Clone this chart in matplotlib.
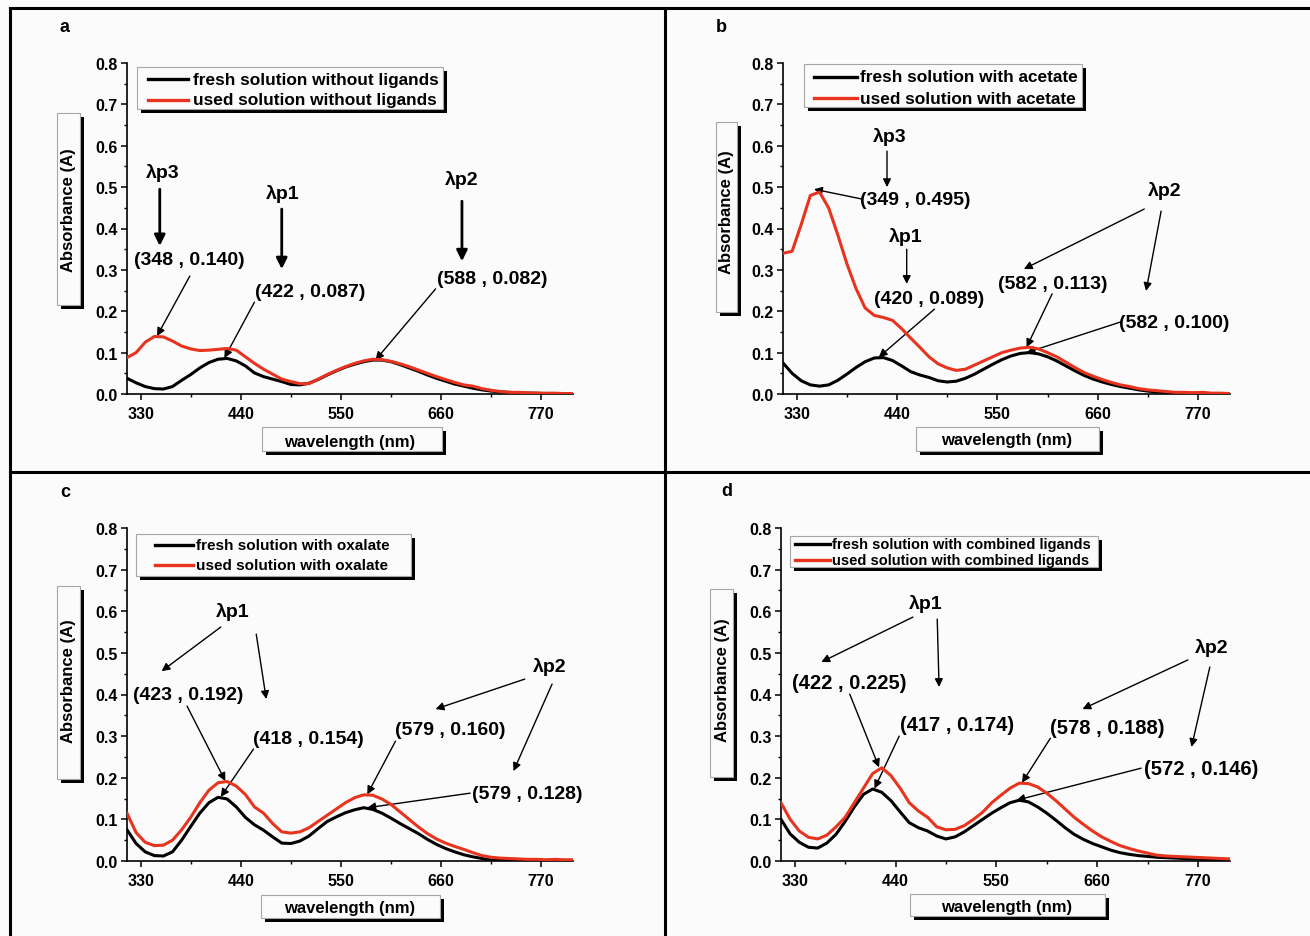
import numpy as np
import matplotlib
matplotlib.use('Agg')
import matplotlib.pyplot as plt
from matplotlib.patches import Rectangle
from matplotlib.lines import Line2D
import matplotlib.patheffects as pe

plt.rcParams['font.family'] = ['Liberation Sans', 'DejaVu Sans']
plt.rcParams['font.weight'] = 'bold'

W, H = 1310, 937
BG = '#fbfbfb'
RED = '#e8341e'

# wavelength grid (nm)
wl = [315, 325, 335, 345, 355, 365, 375, 385, 395, 405, 415, 425, 435, 445, 455, 465, 475,
      485, 495, 505, 515, 525, 535, 545, 555, 565, 575, 585, 595, 605, 615, 625, 635, 645,
      655, 665, 675, 685, 695, 705, 715, 725, 735, 745, 755, 765, 775, 785, 795, 805]

# a - without ligands
fresh_a = [0.038, 0.027, 0.018, 0.013, 0.012, 0.018, 0.033, 0.047, 0.063, 0.076, 0.084, 0.086,
           0.080, 0.068, 0.051, 0.042, 0.036, 0.030, 0.023, 0.022, 0.026, 0.035, 0.046, 0.056,
           0.065, 0.072, 0.078, 0.082, 0.082, 0.078, 0.071, 0.063, 0.055, 0.046, 0.038, 0.031,
           0.024, 0.019, 0.014, 0.010, 0.007, 0.005, 0.004, 0.003, 0.002, 0.002, 0.001, 0.001,
           0.001, 0.000]
used_a = [0.088, 0.100, 0.125, 0.139, 0.138, 0.128, 0.116, 0.109, 0.105, 0.106, 0.108, 0.110,
          0.106, 0.090, 0.074, 0.060, 0.048, 0.036, 0.030, 0.025, 0.025, 0.036, 0.047, 0.057,
          0.066, 0.074, 0.080, 0.084, 0.083, 0.079, 0.073, 0.066, 0.058, 0.050, 0.042, 0.035,
          0.028, 0.022, 0.019, 0.013, 0.009, 0.006, 0.004, 0.004, 0.003, 0.002, 0.002, 0.002,
          0.001, 0.001]

# b - with acetate
fresh_b = [0.075, 0.050, 0.032, 0.022, 0.019, 0.022, 0.033, 0.048, 0.064, 0.078, 0.087, 0.088,
           0.081, 0.068, 0.054, 0.046, 0.040, 0.032, 0.029, 0.031, 0.038, 0.048, 0.060, 0.072,
           0.083, 0.092, 0.098, 0.100, 0.097, 0.090, 0.080, 0.068, 0.056, 0.045, 0.036, 0.029,
           0.023, 0.018, 0.014, 0.010, 0.007, 0.005, 0.004, 0.003, 0.002, 0.002, 0.001, 0.001,
           0.001, 0.001]
used_b = [0.340, 0.345, 0.410, 0.480, 0.488, 0.450, 0.385, 0.315, 0.255, 0.208, 0.190, 0.185,
          0.178, 0.158, 0.135, 0.113, 0.090, 0.073, 0.063, 0.057, 0.060, 0.070, 0.080, 0.090,
          0.100, 0.106, 0.111, 0.113, 0.109, 0.100, 0.090, 0.077, 0.064, 0.052, 0.043, 0.035,
          0.028, 0.022, 0.018, 0.013, 0.010, 0.008, 0.006, 0.004, 0.004, 0.003, 0.004, 0.002,
          0.002, 0.001]

# c - with oxalate
fresh_c = [0.075, 0.042, 0.022, 0.013, 0.012, 0.022, 0.050, 0.083, 0.115, 0.140, 0.153, 0.149,
           0.130, 0.105, 0.087, 0.074, 0.058, 0.043, 0.042, 0.048, 0.060, 0.078, 0.095, 0.106,
           0.116, 0.123, 0.128, 0.124, 0.115, 0.103, 0.090, 0.078, 0.066, 0.052, 0.040, 0.030,
           0.022, 0.015, 0.010, 0.006, 0.002, 0.001, 0.001, 0.000, 0.000, 0.000, 0.000, 0.000,
           0.000, 0.000]
used_c = [0.115, 0.068, 0.045, 0.037, 0.038, 0.050, 0.075, 0.105, 0.140, 0.170, 0.188, 0.191,
          0.180, 0.160, 0.130, 0.115, 0.090, 0.070, 0.067, 0.070, 0.080, 0.095, 0.110, 0.125,
          0.140, 0.152, 0.159, 0.158, 0.149, 0.136, 0.118, 0.100, 0.082, 0.066, 0.053, 0.043,
          0.035, 0.028, 0.020, 0.013, 0.009, 0.007, 0.006, 0.005, 0.004, 0.004, 0.003, 0.004,
          0.003, 0.003]

# d - with combined ligands
fresh_d = [0.100, 0.065, 0.045, 0.033, 0.031, 0.043, 0.064, 0.095, 0.130, 0.160, 0.173, 0.165,
           0.145, 0.118, 0.092, 0.080, 0.072, 0.060, 0.053, 0.058, 0.070, 0.085, 0.100, 0.115,
           0.128, 0.140, 0.146, 0.142, 0.130, 0.115, 0.098, 0.080, 0.064, 0.052, 0.042, 0.034,
           0.026, 0.020, 0.016, 0.013, 0.011, 0.009, 0.008, 0.007, 0.006, 0.005, 0.004, 0.004,
           0.003, 0.003]
used_d = [0.140, 0.100, 0.072, 0.057, 0.053, 0.062, 0.082, 0.105, 0.140, 0.175, 0.210, 0.224,
          0.205, 0.175, 0.140, 0.120, 0.105, 0.082, 0.075, 0.076, 0.085, 0.100, 0.117, 0.140,
          0.158, 0.175, 0.187, 0.186, 0.178, 0.163, 0.145, 0.125, 0.105, 0.088, 0.072, 0.058,
          0.047, 0.037, 0.030, 0.024, 0.019, 0.014, 0.012, 0.011, 0.010, 0.009, 0.008, 0.007,
          0.006, 0.005]

legend_a = ['fresh solution without ligands', 'used solution without ligands']
legend_b = ['fresh solution with acetate', 'used solution with acetate']
legend_c = ['fresh solution with oxalate', 'used solution with oxalate']
legend_d = ['fresh solution with combined ligands', 'used solution with combined ligands']

# labelled peaks (wavelength, absorbance)
peaks_a = [(348, 0.140), (422, 0.087), (588, 0.082)]
peaks_b = [(349, 0.495), (420, 0.089), (582, 0.113), (582, 0.100)]
peaks_c = [(423, 0.192), (418, 0.154), (579, 0.160), (579, 0.128)]
peaks_d = [(422, 0.225), (417, 0.174), (578, 0.188), (572, 0.146)]

xticks = [330, 440, 550, 660, 770]
yticks = [0.0, 0.1, 0.2, 0.3, 0.4, 0.5, 0.6, 0.7, 0.8]


def fx(x):
    return x / W


def fy(y):
    return 1 - y / H


def shadow_box(x0, y0, x1, y1):
    # Origin style frame: thin grey border, black drop shadow right/bottom
    r = Rectangle((fx(x0), fy(y1)), (x1 - x0) / W, (y1 - y0) / H, transform=fig.transFigure,
                  fc=BG, ec='0.65', lw=0.8, zorder=5)
    r.set_path_effects([pe.SimplePatchShadow(offset=(3, -3), shadow_rgbFace='k', alpha=1.0),
                        pe.Normal()])
    fig.add_artist(r)


def make_axes(left, right, top, bottom):
    ax = fig.add_axes([fx(left), fy(bottom), (right - left) / W, (bottom - top) / H])
    ax.set_facecolor('none')
    ax.set_xlim(315, 805)
    ax.set_ylim(0, 0.8)
    ax.set_xticks(xticks)
    ax.set_xticks([385, 495, 605, 715], minor=True)
    ax.set_yticks(yticks)
    ax.set_yticklabels([f'{v:.1f}' for v in yticks])
    ax.set_yticks(np.arange(0.05, 0.8, 0.1), minor=True)
    for s in ['top', 'right']:
        ax.spines[s].set_visible(False)
    for s in ['left', 'bottom']:
        ax.spines[s].set_linewidth(1.2)
    ax.tick_params(which='major', direction='out', length=4, width=1.1, labelsize=11.5, pad=2.5)
    ax.tick_params(which='minor', direction='out', length=2.5, width=1)
    ax.tick_params(axis='x', which='major', pad=5)
    return ax


def plot_pair(ax, fresh, used):
    ax.plot(wl, fresh, color='k', lw=2.2, zorder=3)
    ax.plot(wl, used, color=RED, lw=2.2, zorder=4)


def legend(labels, box, x_line, y_rows, x_text, fs):
    shadow_box(*box)
    for lab, y, c in zip(labels, y_rows, ['k', RED]):
        fig.add_artist(Line2D([fx(x_line[0]), fx(x_line[1])], [fy(y), fy(y)], color=c, lw=2.4,
                              transform=fig.transFigure, zorder=6))
        fig.text(fx(x_text), fy(y), lab, fontsize=fs, ha='left', va='center', zorder=6)


def axis_labels(ybox, ycenter, xbox, xcenter):
    shadow_box(*ybox)
    fig.text(fx(ycenter[0]), fy(ycenter[1]), 'Absorbance (A)', fontsize=12, rotation=90,
             ha='center', va='center', zorder=6)
    shadow_box(*xbox)
    fig.text(fx(xcenter[0]), fy(xcenter[1]), 'wavelength (nm)', fontsize=12,
             ha='center', va='center', zorder=6)


def arrow(ax, start, end, lw=1.0, ms=12):
    ax.annotate('', xy=end, xytext=start,
                arrowprops=dict(arrowstyle='-|>', color='k', lw=lw, mutation_scale=ms,
                                shrinkA=0, shrinkB=0))


def peak_label(ax, pk, tpos, start, fs=14):
    ax.text(tpos[0], tpos[1], f'({pk[0]} , {pk[1]:.3f})', fontsize=fs, ha='center', va='center')
    arrow(ax, start, pk)


def lam(ax, name, pos, fs=14):
    ax.text(pos[0], pos[1], name, fontsize=fs, ha='center', va='center')


fig = plt.figure(figsize=(W / 100, H / 100), dpi=100, facecolor=BG)

# panel frames
for xs, ys in [([10, 1310], [9, 9]), ([10, 10], [9, 937]), ([665, 665], [9, 937]),
               ([10, 1310], [473, 473])]:
    fig.add_artist(Line2D([fx(v) for v in xs], [fy(v) for v in ys], color='k', lw=2.2,
                          transform=fig.transFigure))

for letter, (x, y) in zip('abcd', [(65, 27), (721, 27), (65, 493), (727, 492)]):
    fig.text(fx(x), fy(y), letter, fontsize=13, ha='center', va='center')

# ---- a ----
ax = make_axes(127, 573, 64, 395)
plot_pair(ax, fresh_a, used_a)
legend(legend_a, (137, 68, 443, 110), (148, 188), (80, 101), (193), 12.4)
axis_labels((57, 114, 80, 306), (68, 210), (262, 428, 442, 452), (350, 442))
lam(ax, 'λp3', (354, 0.537))
arrow(ax, (351, 0.495), (351, 0.358), lw=2, ms=16)
lam(ax, 'λp1', (486, 0.486))
arrow(ax, (485, 0.447), (485, 0.302), lw=2, ms=16)
lam(ax, 'λp2', (683, 0.520))
arrow(ax, (683, 0.466), (683, 0.321), lw=2, ms=16)
peak_label(ax, peaks_a[0], (384, 0.324), (384, 0.285))
peak_label(ax, peaks_a[1], (516, 0.247), (455, 0.222))
peak_label(ax, peaks_a[2], (716, 0.280), (654, 0.254))

# ---- b ----
ax = make_axes(783, 1230, 64, 395)
plot_pair(ax, fresh_b, used_b)
legend(legend_b, (804, 65, 1082, 108), (814, 857), (78, 99), 860, 12.4)
axis_labels((716, 123, 737, 313), (726, 212), (916, 428, 1099, 452), (1007, 441))
lam(ax, 'λp3', (432, 0.624))
arrow(ax, (429, 0.587), (429, 0.500))
lam(ax, 'λp1', (449.5, 0.382))
arrow(ax, (450.6, 0.350), (450.6, 0.266))
lam(ax, 'λp2', (733, 0.493))
arrow(ax, (711, 0.447), (579, 0.302))
arrow(ax, (729.5, 0.442), (713, 0.249))
peak_label(ax, peaks_b[0], (460, 0.471), (402, 0.471))
peak_label(ax, peaks_b[1], (475.6, 0.230), (481, 0.205))
peak_label(ax, peaks_b[2], (611, 0.266), (610, 0.242))
peak_label(ax, peaks_b[3], (744, 0.172), (685, 0.174))

# ---- c ----
ax = make_axes(127, 573, 529, 862)
plot_pair(ax, fresh_c, used_c)
legend(legend_c, (136, 535, 411, 577), (155, 193), (546, 566), 196, 11)
axis_labels((57, 587, 80, 780), (69, 681), (261, 896, 440, 919), (350, 909))
lam(ax, 'λp1', (431, 0.600))
arrow(ax, (418, 0.562), (353, 0.456))
arrow(ax, (457, 0.545), (468, 0.389))
lam(ax, 'λp2', (779, 0.468))
arrow(ax, (752, 0.437), (654, 0.365))
arrow(ax, (782, 0.425), (739.6, 0.216))
peak_label(ax, peaks_c[0], (382, 0.401), (381, 0.372))
peak_label(ax, peaks_c[1], (514, 0.295), (454, 0.269))
peak_label(ax, peaks_c[2], (670, 0.315), (610, 0.288))
peak_label(ax, peaks_c[3], (755, 0.163), (692, 0.163))

# ---- d ----
ax = make_axes(781, 1230, 529, 862)
plot_pair(ax, fresh_d, used_d)
legend(legend_d, (790, 537, 1098, 568), (795, 830), (545, 561), 832, 10.5)
axis_labels((710, 590, 733, 778), (723, 680), (910, 895, 1105, 917), (1007, 908))
lam(ax, 'λp1', (473, 0.620))
arrow(ax, (459, 0.586), (359, 0.478))
arrow(ax, (485.5, 0.581), (487.5, 0.418))
lam(ax, 'λp2', (785, 0.514))
arrow(ax, (759, 0.483), (644, 0.365))
arrow(ax, (783, 0.466), (763, 0.274))
peak_label(ax, peaks_d[0], (390, 0.430), (390, 0.401), fs=14.5)
peak_label(ax, peaks_d[1], (507, 0.327), (444, 0.300), fs=14.5)
peak_label(ax, peaks_d[2], (671, 0.320), (609, 0.295), fs=14.5)
peak_label(ax, peaks_d[3], (774, 0.223), (708, 0.223), fs=14.5)

fig.savefig('out.png', dpi=100, facecolor=BG)
